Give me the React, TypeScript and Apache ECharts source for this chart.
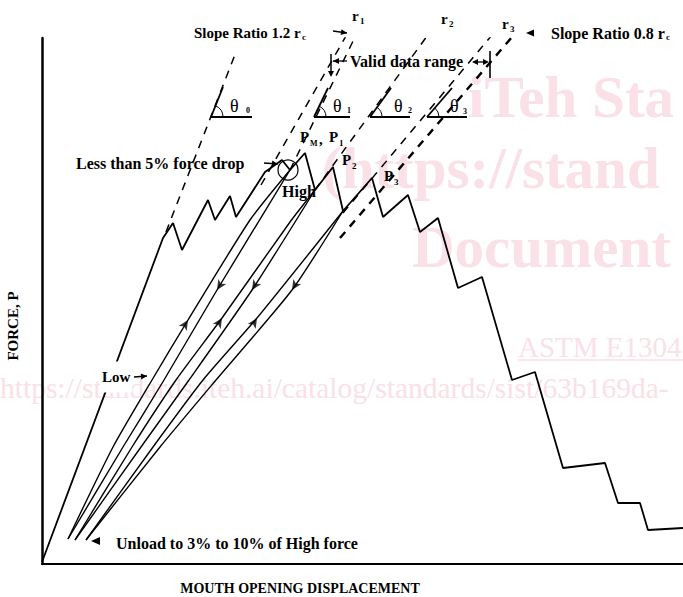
import React, { useEffect, useRef } from "react";
import * as echarts from "echarts";

// ---------- values (displacement, force) in chart units ----------
const loadCurve: number[][] = [
  [0, 2], [121, 326], [131, 341], [140, 314], [166, 364], [173, 344], [188, 368], [194, 347],
  [223, 392], [240, 404], [248, 394], [255, 402], [263, 411], [273, 374], [291, 397], [301, 353],
  [330, 386], [341, 347], [366, 369], [378, 332], [396, 346], [416, 276], [440, 287], [470, 184],
  [493, 192], [521, 96], [563, 101], [576, 61], [598, 61], [606, 34], [641, 36],
];
const reload1: number[][] = [[26, 25], [71, 117], [110, 184], [146, 244], [208, 344], [248, 394]];
const unload1: number[][] = [[248, 394], [175, 274], [122, 184], [81, 117], [26, 25]];
const reload2: number[][] = [[33, 24], [90, 117], [134, 184], [180, 246], [248, 342], [273, 374]];
const unload2: number[][] = [[273, 374], [210, 274], [147, 184], [99, 117], [33, 24]];
const reload3: number[][] = [[44, 24], [111, 117], [161, 184], [215, 246], [301, 353]];
const unload3: number[][] = [[301, 353], [250, 274], [174, 184], [118, 117], [44, 24]];
const unloadArrowPts: number[][] = [[175, 274], [210, 274], [250, 274]];
const reloadArrowPts: number[][] = [[146, 244], [180, 246], [215, 246]];

const secantTheta0: number[][] = [[124, 332], [194, 512]];
const slope12rc: number[][] = [[219, 379], [304, 528]];
const r1Line: number[][] = [[248, 394], [315, 531]];
const r2Line: number[][] = [[273, 374], [388, 532]];
const r3Line: number[][] = [[301, 351], [450, 529]];
const slope08rc: number[][] = [[298, 326], [476, 534]];

// ---------- helpers for annotation graphics ----------
const SERIF = '"Liberation Serif", "Times New Roman", serif';
const T = (text: string, x: number, y: number, size: number, o: any = {}) => ({
  type: "text",
  x,
  y,
  z: o.z ?? 100,
  rotation: o.rotation ?? 0,
  style: {
    text,
    fill: o.fill ?? "#000",
    font: `${o.weight ?? "bold"} ${size}px ${SERIF}`,
    textAlign: o.align ?? "left",
    textVerticalAlign: "middle",
    ...(o.style || {}),
  },
});
const L = (x1: number, y1: number, x2: number, y2: number, w = 1.3, color = "#000", z = 100) => ({
  type: "line",
  z,
  shape: { x1, y1, x2, y2 },
  style: { stroke: color, lineWidth: w },
});
const head = (x1: number, y1: number, x2: number, y2: number, len = 6, half = 3) => {
  const dx = x2 - x1, dy = y2 - y1;
  const d = Math.hypot(dx, dy) || 1;
  const ux = dx / d, uy = dy / d;
  const bx = x2 - ux * len, by = y2 - uy * len;
  return {
    type: "polygon",
    z: 100,
    shape: { points: [[x2, y2], [bx - uy * half, by + ux * half], [bx + uy * half, by - ux * half]] },
    style: { fill: "#000" },
  };
};
const A = (x1: number, y1: number, x2: number, y2: number) => [L(x1, y1, x2, y2, 1.3), head(x1, y1, x2, y2)];
const thetaMark = (vx: number, vy: number, tx: number, ty: number, hx: number) => {
  const ang = Math.atan2(ty - vy, tx - vx);
  return [
    L(vx, vy, hx, vy, 1.8),
    L(vx, vy, tx, ty, 1.8),
    {
      type: "arc",
      z: 100,
      shape: { cx: vx, cy: vy, r: 12, startAngle: ang, endAngle: 0, clockwise: true },
      style: { stroke: "#000", fill: "none", lineWidth: 1 },
    },
  ];
};

const WM = "#fae0e7";

export default function App() {
  const ref = useRef<HTMLDivElement>(null);
  useEffect(() => {
    const chart = echarts.init(ref.current!, null, { renderer: "svg" });
    const lineS = (data: number[][], w: number, extra: any = {}) => ({
      type: "line",
      data,
      symbol: "none",
      z: 5,
      silent: true,
      lineStyle: { color: "#000", width: w, ...(extra.lineStyle || {}) },
      smooth: extra.smooth ?? false,
    });
    const dashed = (data: number[][], w = 1.5) =>
      lineS(data, w, { lineStyle: { type: [8, 7] } });

    const graphic: any[] = [
      // watermark
      T("iTeh Sta", 468, 97, 59, { fill: WM, z: 0 }),
      T("(https://stand", 322, 168, 59, { fill: WM, z: 0 }),
      T("Document", 412, 247, 59, { fill: WM, z: 0 }),
      T("ASTM E1304", 518, 347, 29, { fill: WM, z: 0, weight: "normal" }),
      L(518, 360, 683, 360, 1.5, WM, 0),
      T("https://standards.iteh.ai/catalog/standards/sist/63b169da-", 0, 388, 29.5, {
        fill: WM,
        z: 0,
        weight: "normal",
      }),

      // texts
      T("Slope Ratio 1.2 r", 194, 33, 15),
      T("c", 302, 37, 9),
      ...A(333, 31, 347, 33),
      T("r", 352, 16, 15),
      T("1", 360, 21, 9),
      T("r", 441, 19, 15),
      T("2", 449, 24, 9),
      T("r", 502, 24, 15),
      T("3", 510, 29, 9),
      { type: "polygon", z: 100, shape: { points: [[526, 33], [534, 29.5], [534, 36.5]] }, style: { fill: "#000" } },
      T("Slope Ratio 0.8 r", 551, 33, 16),
      T("c", 666, 37, 9),

      T("Valid data range", 350, 61, 16),
      L(331, 54, 331, 72, 1.5),
      head(331, 62, 331, 77),
      ...A(347, 61, 333, 61),
      L(475, 62, 487, 62, 1.3),
      head(487, 62, 472, 62),
      head(475, 62, 489, 62),
      L(490, 51, 490, 78, 1.6),

      ...thetaMark(211, 117, 223, 87, 252),
      T("θ", 230, 106, 18, { weight: "normal" }),
      T("0", 246, 110, 8),
      ...thetaMark(314, 117, 328, 88, 350),
      T("θ", 333, 106, 18, { weight: "normal" }),
      T("1", 347, 110, 8),
      ...thetaMark(370, 117, 391, 88, 410),
      T("θ", 394, 106, 18, { weight: "normal" }),
      T("2", 408, 110, 8),
      ...thetaMark(427, 117, 452, 88, 467),
      T("θ", 450, 106, 18, { weight: "normal" }),
      T("3", 463, 111, 8),

      T("P", 300, 137, 15),
      T("M", 310, 143, 8),
      T(",", 319, 139, 15),
      T("P", 329, 137, 15),
      T("1", 339, 143, 9),
      T("P", 342, 160, 15),
      T("2", 352, 166, 9),
      T("P", 384, 176, 15),
      T("3", 394, 182, 9),

      T("Less than 5% force drop", 76, 163, 16),
      ...A(264, 163, 278, 164),
      {
        type: "circle",
        z: 100,
        shape: { cx: 288, cy: 170, r: 10 },
        style: { stroke: "#000", fill: "none", lineWidth: 1.2 },
      },
      T("High", 282, 191, 16),
      T("Low", 100, 377, 15, { style: { backgroundColor: "#fff", padding: [8, 2, 8, 2] } }),
      ...A(134, 377, 147, 376),

      { type: "polygon", z: 100, shape: { points: [[91, 541], [100, 537], [100, 545]] }, style: { fill: "#000" } },
      T("Unload to 3% to 10% of High force", 116, 543, 16),

      T("FORCE, P", 13, 326, 15, { rotation: Math.PI / 2, align: "center" }),
      T("MOUTH OPENING DISPLACEMENT", 300, 588, 14, { align: "center" }),
    ];

    const option: any = {
      animation: false,
      backgroundColor: "#fff",
      grid: { left: 42, top: 38, width: 641, height: 526 },
      xAxis: {
        type: "value",
        min: 0,
        max: 641,
        axisLine: { show: true, onZero: false, lineStyle: { color: "#000", width: 2 } },
        axisTick: { show: false },
        axisLabel: { show: false },
        splitLine: { show: false },
      },
      yAxis: {
        type: "value",
        min: 0,
        max: 526,
        axisLine: { show: true, onZero: false, lineStyle: { color: "#000", width: 2.5 } },
        axisTick: { show: false },
        axisLabel: { show: false },
        splitLine: { show: false },
      },
      series: [
        lineS(loadCurve, 1.8),
        lineS(reload1, 1.4, { smooth: 0.2 }),
        lineS(unload1, 1.4, { smooth: 0.2 }),
        lineS(reload2, 1.4, { smooth: 0.2 }),
        lineS(unload2, 1.4, { smooth: 0.2 }),
        lineS(reload3, 1.4, { smooth: 0.2 }),
        lineS(unload3, 1.4, { smooth: 0.2 }),
        dashed(secantTheta0),
        dashed(slope12rc),
        dashed(r1Line),
        dashed(r2Line),
        dashed(r3Line),
        dashed(slope08rc, 2.4),
        {
          type: "scatter",
          z: 6,
          silent: true,
          symbol: "arrow",
          symbolSize: [7, 10],
          symbolRotate: 148,
          itemStyle: { color: "#000" },
          data: unloadArrowPts,
        },
        {
          type: "scatter",
          z: 6,
          silent: true,
          symbol: "arrow",
          symbolSize: [7, 10],
          symbolRotate: -32,
          itemStyle: { color: "#000" },
          data: reloadArrowPts,
        },
      ],
      graphic,
    };
    chart.setOption(option);
    return () => chart.dispose();
  }, []);
  return (
    <div
      ref={ref}
      style={{ position: "fixed", left: 0, top: 0, width: 683, height: 597, background: "#fff" }}
    />
  );
}
